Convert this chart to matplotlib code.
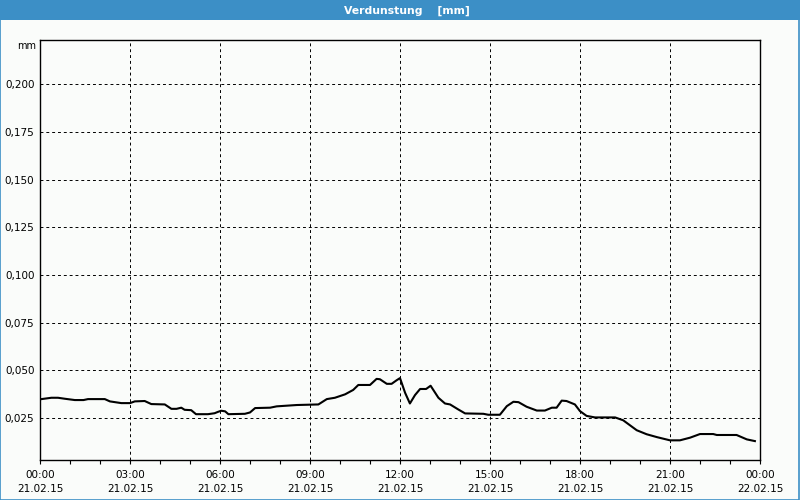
import numpy as np
import matplotlib
matplotlib.use("Agg")
import matplotlib.pyplot as plt
from matplotlib.patches import Rectangle
from matplotlib.ticker import FuncFormatter, MultipleLocator

# Verdunstung [mm], 21.02.15, hours since midnight
hours = [0.0, 0.38, 0.6, 0.82, 1.16, 1.45, 1.6, 2.16, 2.33, 2.71, 3.0, 3.16, 3.49,
         3.71, 4.16, 4.38, 4.55, 4.71, 4.82, 5.04, 5.2, 5.6, 5.82, 5.93, 6.04,
         6.17, 6.28, 6.83, 7.0, 7.17, 7.67, 7.89, 8.56, 9.28, 9.56, 9.83, 10.17,
         10.44, 10.61, 11.0, 11.22, 11.33, 11.56, 11.72, 11.89, 12.0, 12.17, 12.33,
         12.5, 12.67, 12.87, 13.02, 13.28, 13.5, 13.67, 13.94, 14.17, 14.78, 14.94,
         15.33, 15.56, 15.78, 15.95, 16.22, 16.56, 16.83, 17.06, 17.22, 17.39, 17.55,
         17.83, 18.0, 18.22, 18.5, 19.17, 19.44, 19.89, 20.22, 20.56, 21.0, 21.33,
         21.67, 22.0, 22.44, 22.56, 23.22, 23.56, 23.83]
values = [0.0349, 0.0357, 0.0357, 0.0352, 0.0345, 0.0345, 0.0350, 0.0350, 0.0338,
          0.0329, 0.0329, 0.0338, 0.0340, 0.0324, 0.0322, 0.0299, 0.0299, 0.0305,
          0.0294, 0.0292, 0.0271, 0.0271, 0.0276, 0.0283, 0.0289, 0.0286, 0.0271,
          0.0273, 0.0280, 0.0303, 0.0305, 0.0312, 0.0319, 0.0322, 0.0350, 0.0357,
          0.0375, 0.0398, 0.0424, 0.0424, 0.0456, 0.0454, 0.0430, 0.0430, 0.0449,
          0.0460, 0.0383, 0.0327, 0.0371, 0.0403, 0.0403, 0.0420, 0.0357, 0.0327,
          0.0322, 0.0296, 0.0275, 0.0273, 0.0268, 0.0268, 0.0313, 0.0336, 0.0334,
          0.0310, 0.0290, 0.0290, 0.0305, 0.0305, 0.0342, 0.0340, 0.0322, 0.0287,
          0.0262, 0.0254, 0.0254, 0.0239, 0.0187, 0.0166, 0.0151, 0.0134, 0.0134,
          0.0148, 0.0167, 0.0167, 0.0162, 0.0162, 0.0139, 0.0130]

tick_hours = [0, 3, 6, 9, 12, 15, 18, 21, 24]
tick_labels = ["00:00\n21.02.15", "03:00\n21.02.15", "06:00\n21.02.15",
               "09:00\n21.02.15", "12:00\n21.02.15", "15:00\n21.02.15",
               "18:00\n21.02.15", "21:00\n21.02.15", "00:00\n22.02.15"]
y_ticks = [0.025, 0.05, 0.075, 0.1, 0.125, 0.15, 0.175, 0.2]

bg = "#fafcfa"
blue = "#3c8fc6"
plt.rcParams["font.family"] = "DejaVu Sans"

fig = plt.figure(figsize=(8, 5), dpi=100, facecolor=bg)

# title bar and frame
fig.patches.append(Rectangle((0, 0.96), 1, 0.04, transform=fig.transFigure,
                             facecolor=blue, edgecolor="none", zorder=0))
fig.patches.append(Rectangle((0.0006, 0.001), 0.9985, 0.998, transform=fig.transFigure,
                             facecolor="none", edgecolor=blue, linewidth=1.2, zorder=1))
fig.text(0.508, 0.979, "Verdunstung    [mm]", color="white", fontsize=7.8,
         fontweight="bold", ha="center", va="center")

ax = fig.add_axes([0.05, 0.08, 0.9, 0.84], facecolor=bg)
ax.plot(hours, values, color="black", linewidth=1.5)

ax.set_xlim(0, 24)
ax.set_ylim(0.0031, 0.2231)
ax.set_xticks(tick_hours)
ax.set_xticklabels(tick_labels, fontsize=7.5, linespacing=1.5)
ax.xaxis.set_minor_locator(MultipleLocator(1))
ax.set_yticks(y_ticks)
ax.yaxis.set_major_formatter(FuncFormatter(lambda v, p: f"{v:.3f}".replace(".", ",")))
ax.tick_params(axis="y", labelsize=7.5, length=0, pad=4)
ax.tick_params(axis="x", which="both", direction="out", length=3, width=0.8, pad=4)

ax.grid(True, color="black", linestyle=(0, (3, 3)), linewidth=0.7)
for s in ax.spines.values():
    s.set_linewidth(1.0)

fig.text(0.045, 0.908, "mm", fontsize=7, ha="right", va="center")

fig.savefig("out.png", dpi=100, facecolor=bg)
